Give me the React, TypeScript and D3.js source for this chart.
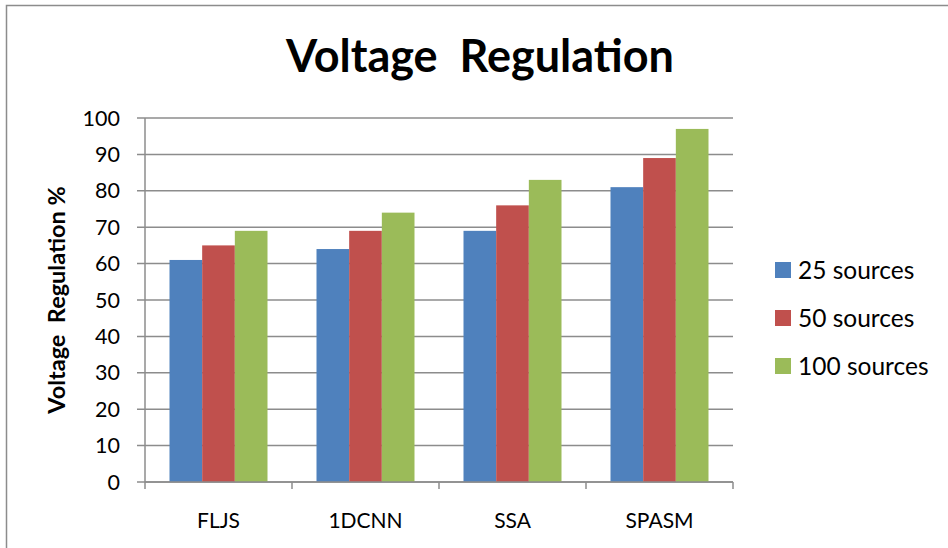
import React, { useEffect, useRef } from "react";
import * as d3 from "d3";

const categories = ["FLJS", "1DCNN", "SSA", "SPASM"];
const seriesNames = ["25 sources", "50 sources", "100 sources"];
const sources25 = [61, 64, 69, 81];
const sources50 = [65, 69, 76, 89];
const sources100 = [69, 74, 83, 97];
const yTicks = [0, 10, 20, 30, 40, 50, 60, 70, 80, 90, 100];
const colors = ["#4f81bd", "#c0504d", "#9bbb59"];

const App = () => {
  const ref = useRef<SVGSVGElement>(null);

  useEffect(() => {
    const svg = d3.select(ref.current);
    svg.selectAll("*").remove();
    const font = "Lato, 'Open Sans', sans-serif";

    const left = 145, right = 733, top = 118, bottom = 482;
    const series = [sources25, sources50, sources100];

    // chart frame
    svg.append("rect")
      .attr("x", 6.5).attr("y", 5.5)
      .attr("width", 960).attr("height", 560)
      .attr("fill", "#fff").attr("stroke", "#8c8c8c").attr("stroke-width", 1.5);

    const x = d3.scaleBand().domain(categories).range([left, right]);
    const y = d3.scaleLinear().domain([0, 100]).range([bottom, top]);
    const inner = d3.scaleBand()
      .domain(seriesNames)
      .range([0, x.bandwidth()])
      .paddingOuter(0.75)
      .paddingInner(0);

    // gridlines
    svg.append("g").selectAll("line")
      .data(yTicks)
      .enter()
      .append("line")
      .attr("x1", left - 8).attr("x2", right)
      .attr("y1", d => y(d)).attr("y2", d => y(d))
      .attr("stroke", "#8c8c8c").attr("stroke-width", 1.5);

    // y axis line
    svg.append("line")
      .attr("x1", left).attr("x2", left)
      .attr("y1", top).attr("y2", bottom)
      .attr("stroke", "#8c8c8c").attr("stroke-width", 1.5);

    // bars
    const groups = svg.append("g").selectAll("g")
      .data(categories)
      .enter()
      .append("g")
      .attr("transform", d => `translate(${x(d)},0)`);

    groups.selectAll("rect")
      .data((_, i) => series.map((s, k) => ({ k, v: s[i] })))
      .enter()
      .append("rect")
      .attr("x", d => inner(seriesNames[d.k])!)
      .attr("width", inner.bandwidth())
      .attr("y", d => y(d.v))
      .attr("height", d => y(0) - y(d.v))
      .attr("fill", d => colors[d.k]);

    // x axis
    svg.append("line")
      .attr("x1", left).attr("x2", right)
      .attr("y1", bottom).attr("y2", bottom)
      .attr("stroke", "#8c8c8c").attr("stroke-width", 1.5);
    const xTickPos = categories.map(c => x(c)!).concat([right]);
    svg.append("g").selectAll("line")
      .data(xTickPos)
      .enter()
      .append("line")
      .attr("x1", d => d).attr("x2", d => d)
      .attr("y1", bottom).attr("y2", bottom + 7)
      .attr("stroke", "#8c8c8c").attr("stroke-width", 1.5);

    svg.append("g").selectAll("text")
      .data(categories)
      .enter()
      .append("text")
      .attr("x", d => x(d)! + x.bandwidth() / 2)
      .attr("y", 528)
      .attr("text-anchor", "middle")
      .attr("font-family", font)
      .attr("font-size", 21)
      .text(d => d);

    // y tick labels
    svg.append("g").selectAll("text")
      .data(yTicks)
      .enter()
      .append("text")
      .attr("x", 120)
      .attr("y", d => y(d))
      .attr("dy", "0.35em")
      .attr("text-anchor", "end")
      .attr("font-family", font)
      .attr("font-size", 21.5)
      .text(d => d);

    // title
    svg.append("text")
      .attr("x", 480).attr("y", 72)
      .attr("text-anchor", "middle")
      .attr("font-family", font)
      .attr("font-weight", "bold")
      .attr("font-size", 45)
      .style("white-space", "pre")
      .text("Voltage  Regulation");

    // y axis title
    svg.append("text")
      .attr("transform", "translate(65,300) rotate(-90)")
      .attr("text-anchor", "middle")
      .attr("font-family", font)
      .attr("font-weight", "bold")
      .attr("font-size", 23.5)
      .style("white-space", "pre")
      .text("Voltage  Regulation %");

    // legend
    const legend = svg.append("g").selectAll("g")
      .data(seriesNames)
      .enter()
      .append("g")
      .attr("transform", (_, i) => `translate(775,${270 + i * 48})`);
    legend.append("rect")
      .attr("x", 0).attr("y", -8)
      .attr("width", 16).attr("height", 16)
      .attr("fill", (_, i) => colors[i]);
    legend.append("text")
      .attr("x", 23).attr("dy", "0.35em")
      .attr("font-family", font)
      .attr("font-size", 24.5)
      .text(d => d);
  }, []);

  return (
    <svg ref={ref} width={948} height={548}
      style={{ position: "absolute", left: 0, top: 0 }} />
  );
};

export default App;
